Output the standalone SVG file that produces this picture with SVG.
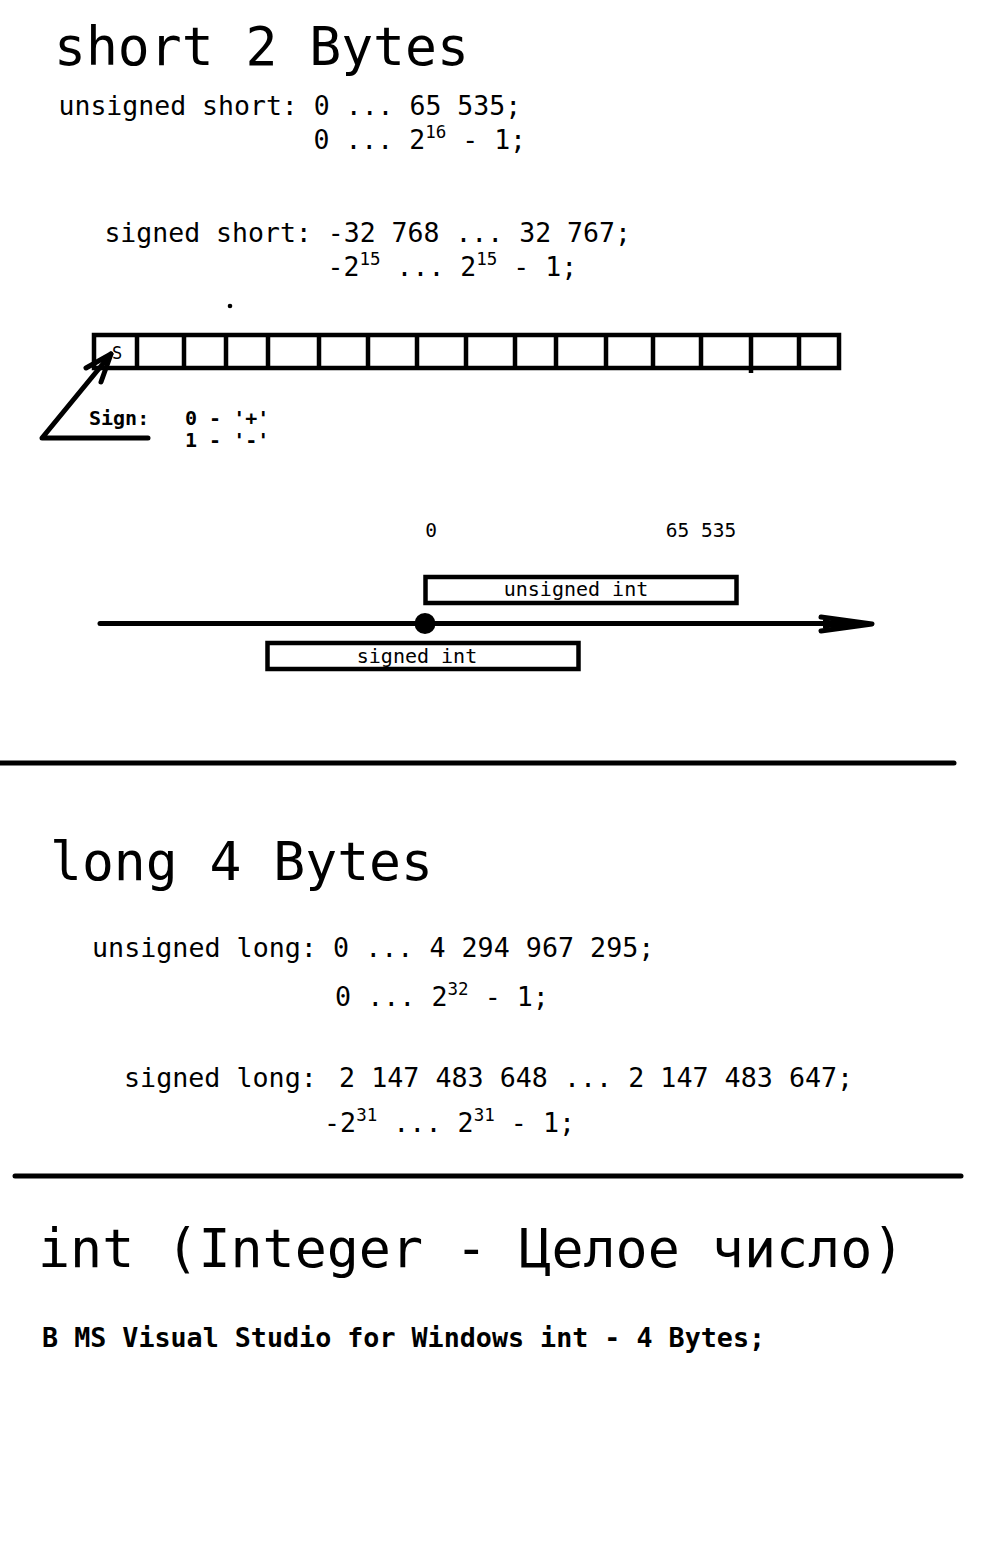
<svg xmlns="http://www.w3.org/2000/svg" width="988" height="1544" viewBox="0 0 988 1544">
<style>
  text { font-family: "DejaVu Sans Mono", "Liberation Mono", monospace; fill: #000; white-space: pre; }
  .title { font-size: 53px; }
  .body { font-size: 26.5px; }
  .body2 { font-size: 26.7px; }
  .sup { font-size: 17.5px; }
  .small { font-size: 20px; }
  .bold { font-weight: bold; }
  .ln { stroke: #000; stroke-width: 5; fill: none; stroke-linecap: round; stroke-linejoin: round; }
  .box { stroke: #000; stroke-width: 4.5; fill: #fff; }
  .cell { stroke: #000; stroke-width: 4.5; fill: none; }
</style>
<rect width="988" height="1544" fill="#fff"/>

<g id="short-section">
  <text id="short-title" class="title" x="54" y="65">short 2 Bytes</text>
  <text id="ushort-range" class="body" x="58.5" y="115">unsigned short: 0 ... 65 535;</text>
  <text id="ushort-pow" class="body" x="313.5" y="149">0 ... 2<tspan class="sup" dy="-11">16</tspan><tspan dy="11"> - 1;</tspan></text>
  <text id="sshort-range" class="body" x="104.4" y="242">signed short: -32 768 ... 32 767;</text>
  <text id="sshort-pow" class="body" x="327.6" y="276">-2<tspan class="sup" dy="-11">15</tspan><tspan dy="11"> ... 2</tspan><tspan class="sup" dy="-11">15</tspan><tspan dy="11"> - 1;</tspan></text>
  <circle cx="230" cy="306" r="2.3" fill="#000"/>
</g>

<g id="bit-cells">
  <rect class="cell" x="94" y="335" width="745" height="33"/>
  <path class="cell" d="M137 335V368M184 335V368M226 335V369M268 335V368M319 335V368M368 335V368M417 335V368M466 335V368M515 335V368M556 335V368M606 335V368M653 335V368M701 335V368M751 335V373M799 335V368"/>
  <text id="sign-bit" x="112" y="359" style="font-size:17px">S</text>
</g>

<g id="sign-legend">
  <text class="small bold" x="89" y="425">Sign:</text>
  <text class="small bold" x="185" y="425">0 - '+'</text>
  <text class="small bold" x="185" y="447">1 - '-'</text>
</g>

<g id="number-line">
  <text class="small" x="431" y="537" text-anchor="middle" style="font-size:19.5px">0</text>
  <text class="small" x="701" y="537" text-anchor="middle" style="font-size:19.5px">65 535</text>
  <g id="unsigned-int">
    <rect class="box" x="425.5" y="577" width="311" height="26"/>
    <text class="small" x="576" y="596" text-anchor="middle">unsigned int</text>
  </g>
  <g id="signed-int">
    <rect class="box" x="267.5" y="643" width="311" height="26"/>
    <text class="small" x="417" y="663" text-anchor="middle">signed int</text>
  </g>
</g>

<g id="connectors">
  <path class="ln" d="M148 438H42L111 354"/>
  <path class="ln" d="M86 368L111 354L101 382"/>
  <path class="ln" d="M100 623.5H866" stroke-width="4.5"/>
  <path class="ln" d="M821 617L872 624L821 631" stroke-width="5"/>
  <polygon points="823,619.5 872,624 823,628.5" fill="#000"/>
  <circle cx="425" cy="623.5" r="10.5" fill="#000"/>
</g>

<g id="separators">
  <line class="ln" x1="0" y1="763" x2="954" y2="763" stroke-width="6"/>
  <line class="ln" x1="15" y1="1176" x2="961" y2="1176" stroke-width="7"/>
</g>

<g id="long-section">
  <text id="long-title" class="title" x="50" y="880">long 4 Bytes</text>
  <text class="body2" x="92" y="957">unsigned long: 0 ... 4 294 967 295;</text>
  <text class="body2" x="335" y="1006">0 ... 2<tspan class="sup" dy="-11">32</tspan><tspan dy="11"> - 1;</tspan></text>
  <text class="body2" x="124" y="1087">signed long:</text>
  <text class="body2" x="339" y="1087">2 147 483 648 ... 2 147 483 647;</text>
  <text class="body2" x="324" y="1132">-2<tspan class="sup" dy="-11">31</tspan><tspan dy="11"> ... 2</tspan><tspan class="sup" dy="-11">31</tspan><tspan dy="11"> - 1;</tspan></text>
</g>

<g id="int-section">
  <text id="int-title" class="title" x="38" y="1267" style="font-size:53.3px">int (Integer - Целое число)</text>
  <text class="body2 bold" x="42" y="1347">В MS Visual Studio for Windows int - 4 Bytes;</text>
</g>
</svg>
